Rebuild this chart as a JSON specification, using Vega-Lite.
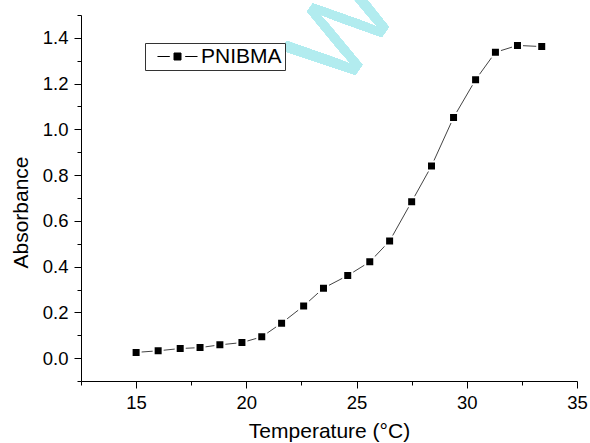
{
  "$schema": "https://vega.github.io/schema/vega-lite/v6.json",
  "width": 496,
  "height": 366,
  "autosize": {"type": "none"},
  "padding": {"left": 81, "top": 15, "right": 13, "bottom": 62},
  "background": "white",
  "config": {
    "view": {"stroke": null},
    "font": "Liberation Sans",
    "axis": {
      "domainColor": "#000",
      "domainWidth": 1,
      "tickColor": "#000",
      "tickWidth": 1,
      "labelColor": "#000",
      "titleColor": "#000",
      "labelFont": "Liberation Sans",
      "titleFont": "Liberation Sans",
      "labelFontSize": 18.5,
      "titleFontSize": 21,
      "titleFontWeight": "normal",
      "grid": false,
      "labelOverlap": false,
      "labelFlush": false
    }
  },
  "data": {
    "values": [
      {"temperature": 15.0, "absorbance": 0.025, "series": "PNIBMA"},
      {"temperature": 16.0, "absorbance": 0.032, "series": "PNIBMA"},
      {"temperature": 17.0, "absorbance": 0.042, "series": "PNIBMA"},
      {"temperature": 17.9, "absorbance": 0.046, "series": "PNIBMA"},
      {"temperature": 18.8, "absorbance": 0.058, "series": "PNIBMA"},
      {"temperature": 19.8, "absorbance": 0.068, "series": "PNIBMA"},
      {"temperature": 20.7, "absorbance": 0.093, "series": "PNIBMA"},
      {"temperature": 21.6, "absorbance": 0.153, "series": "PNIBMA"},
      {"temperature": 22.6, "absorbance": 0.228, "series": "PNIBMA"},
      {"temperature": 23.5, "absorbance": 0.306, "series": "PNIBMA"},
      {"temperature": 24.6, "absorbance": 0.361, "series": "PNIBMA"},
      {"temperature": 25.6, "absorbance": 0.421, "series": "PNIBMA"},
      {"temperature": 26.5, "absorbance": 0.512, "series": "PNIBMA"},
      {"temperature": 27.5, "absorbance": 0.684, "series": "PNIBMA"},
      {"temperature": 28.4, "absorbance": 0.840, "series": "PNIBMA"},
      {"temperature": 29.4, "absorbance": 1.052, "series": "PNIBMA"},
      {"temperature": 30.4, "absorbance": 1.217, "series": "PNIBMA"},
      {"temperature": 31.3, "absorbance": 1.337, "series": "PNIBMA"},
      {"temperature": 32.3, "absorbance": 1.367, "series": "PNIBMA"},
      {"temperature": 33.4, "absorbance": 1.362, "series": "PNIBMA"}
    ]
  },
  "encoding": {
    "x": {
      "field": "temperature",
      "type": "quantitative",
      "scale": {"domain": [12.5, 35], "nice": false, "zero": false},
      "axis": {
        "title": "Temperature (°C)",
        "values": [12.5, 15, 17.5, 20, 22.5, 25, 27.5, 30, 32.5, 35],
        "labelExpr": "datum.value % 5 === 0 ? format(datum.value, 'd') : ''",
        "tickSize": {"condition": {"test": "datum.value % 5 === 0", "value": 7}, "value": 4},
        "labelPadding": 5,
        "titlePadding": 9
      }
    },
    "y": {
      "field": "absorbance",
      "type": "quantitative",
      "scale": {"domain": [-0.1, 1.5], "nice": false, "zero": false},
      "axis": {
        "title": "Absorbance",
        "values": [-0.1, 0, 0.1, 0.2, 0.3, 0.4, 0.5, 0.6, 0.7, 0.8, 0.9, 1.0, 1.1, 1.2, 1.3, 1.4, 1.5],
        "labelExpr": "round(datum.value * 10) % 2 === 0 ? format(datum.value, '.1f') : ''",
        "tickSize": {"condition": {"test": "round(datum.value * 10) % 2 === 0", "value": 7}, "value": 4},
        "labelPadding": 6,
        "titlePadding": 11,
        "titleY": 197
      }
    }
  },
  "layer": [
    {
      "mark": {
        "type": "text",
        "text": "W",
        "font": "Liberation Sans",
        "fontSize": 110,
        "angle": -55,
        "color": "#b2ecef",
        "baseline": "alphabetic",
        "align": "left"
      },
      "encoding": {
        "x": {"datum": 24.35},
        "y": {"datum": 1.157}
      }
    },
    {
      "mark": {"type": "line", "color": "#444", "strokeWidth": 1},
      "encoding": {}
    },
    {
      "mark": {"type": "point", "shape": "square", "filled": true, "size": 81, "stroke": "white", "strokeWidth": 2, "opacity": 1},
      "encoding": {
        "color": {
          "field": "series",
          "type": "nominal",
          "scale": {"range": ["#000"]},
          "legend": {
            "title": null,
            "orient": "none",
            "legendX": 64,
            "legendY": 28,
            "padding": 3,
            "strokeColor": "#333",
            "fillColor": "white",
            "symbolType": "M-2.86,0L-1.1,0M1.1,0L2.86,0M-0.5,-0.5L0.5,-0.5L0.5,0.5L-0.5,0.5Z",
            "symbolSize": 196,
            "symbolFillColor": "#000",
            "symbolStrokeColor": "#000",
            "symbolStrokeWidth": 1,
            "symbolOffset": 19,
            "labelOffset": 13,
            "labelFont": "Liberation Sans",
            "labelFontSize": 21,
            "labelColor": "#000",
            "labelLimit": 300
          }
        }
      }
    }
  ]
}
